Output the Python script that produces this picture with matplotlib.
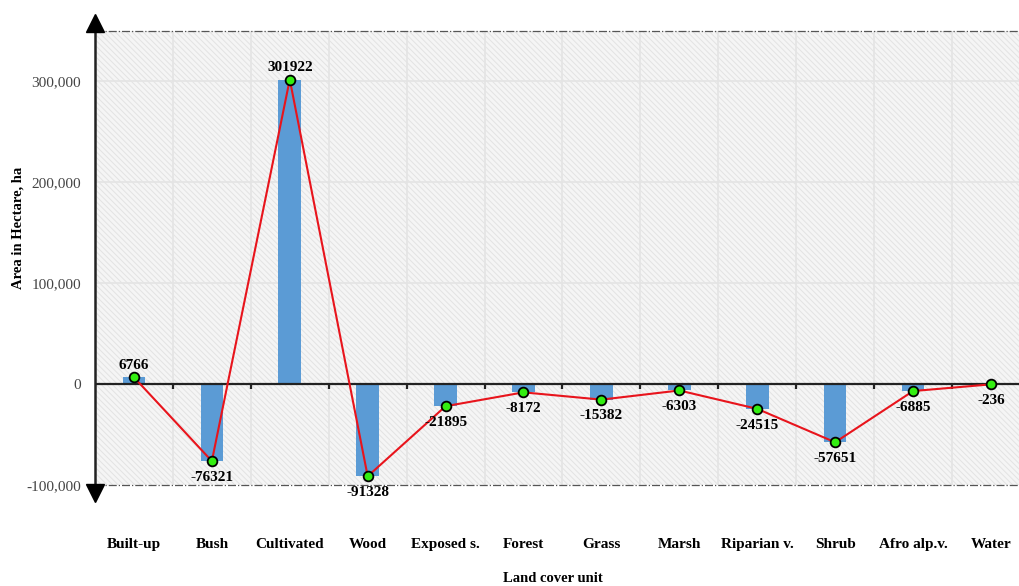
import matplotlib.pyplot as plt
import numpy as np
from matplotlib.patches import Rectangle

plt.rcParams['font.family'] = ['Liberation Serif', 'DejaVu Serif']
plt.rcParams['hatch.color'] = '#e3e3e3'
plt.rcParams['hatch.linewidth'] = 0.7

# data
categories = ['Built-up', 'Bush', 'Cultivated', 'Wood', 'Exposed s.', 'Forest',
              'Grass', 'Marsh', 'Riparian v.', 'Shrub', 'Afro alp.v.', 'Water']
change = [6766, -76321, 301922, -91328, -21895, -8172,
          -15382, -6303, -24515, -57651, -6885, -236]
yticks = [-100000, 0, 100000, 200000, 300000]
ytick_labels = ['-100,000', '0', '100,000', '200,000', '300,000']

x = np.arange(len(categories))
ymin, ymax = -100000, 350000

fig = plt.figure(figsize=(10.19, 5.86), dpi=100)
ax = fig.add_axes([95 / 1019, 1 - 485 / 586, 1 - 95 / 1019, (485 - 31) / 586])
ax.set_xlim(-0.5, 11.36)
ax.set_ylim(ymin, ymax)

# hatched background
bg = Rectangle((0, 0), 1, 1, transform=ax.transAxes, facecolor='#f5f5f5',
               edgecolor='#e3e3e3', hatch='\\\\\\\\\\\\', linewidth=0, zorder=0)
ax.add_patch(bg)

# grid
for b in np.arange(-0.5, len(categories), 1.0)[1:]:
    ax.axvline(b, color='#e4e4e4', lw=1.2, zorder=1)
for t in [100000, 200000, 300000]:
    ax.axhline(t, color='#e4e4e4', lw=1.2, zorder=1)
ax.axhline(ymin, color='#555555', lw=0.9, ls='-.', zorder=2, clip_on=False)
ax.axhline(ymax, color='#555555', lw=0.9, ls='-.', zorder=2, clip_on=False)

# bars
ax.bar(x, change, width=0.29, color='#5b9bd5', zorder=3)

# zero line and its ticks
ax.axhline(0, color='#222222', lw=1.6, zorder=4)
ax.vlines(np.arange(0.5, len(categories), 1.0), -5000, 0, color='#222222', lw=1.6, zorder=4)

# line with markers
ax.plot(x, change, color='#e8141c', lw=1.5, zorder=5)
ax.plot(x, change, 'o', markersize=7, markerfacecolor='#33ee11',
        markeredgecolor='black', markeredgewidth=1.3, zorder=6)

for xi, v in zip(x, change):
    if v >= 0:
        ax.annotate(str(v), (xi, v), xytext=(0, 4), textcoords='offset points',
                    ha='center', va='bottom', fontsize=11, fontweight='bold', zorder=7)
    else:
        ax.annotate(str(v), (xi, v), xytext=(0, -7), textcoords='offset points',
                    ha='center', va='top', fontsize=11, fontweight='bold', zorder=7)

# y axis with arrows
ax.spines[['top', 'right', 'bottom']].set_visible(False)
ax.spines['left'].set_color('#222222')
ax.spines['left'].set_linewidth(1.8)
ax.spines['left'].set_zorder(8)
ax.plot([-0.5], [357500], marker='^', markersize=13, color='black', clip_on=False, zorder=9)
ax.plot([-0.5], [-107500], marker='v', markersize=13, color='black', clip_on=False, zorder=9)

ax.set_yticks(yticks)
ax.set_yticklabels(ytick_labels, fontsize=11, color='#444444')
ax.tick_params(axis='y', length=0, pad=10)
ax.set_xticks(x)
ax.set_xticklabels(categories, fontsize=11, fontweight='bold')
ax.tick_params(axis='x', length=0, pad=38)

fig.text(18 / 1019, 1 - 228 / 586, 'Area in Hectare, ha', rotation=90, ha='center',
         va='center', fontsize=10.5, fontweight='bold')
fig.text(553 / 1019, 1 - 579 / 586, 'Land cover unit', ha='center', va='center',
         fontsize=10.5, fontweight='bold')

fig.savefig('out.png', dpi=100)
